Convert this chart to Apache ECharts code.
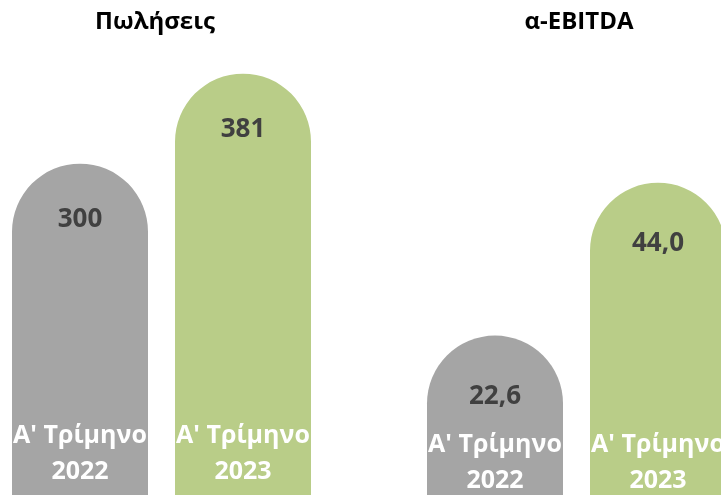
<!DOCTYPE html>
<html>
<head>
<meta charset="utf-8">
<script src="https://cdn.jsdelivr.net/npm/echarts@6/dist/echarts.min.js"></script>
<style>
  html, body { margin: 0; padding: 0; background: #ffffff; }
  #chart { width: 721px; height: 495px; }
</style>
</head>
<body>
<div id="chart"></div>
<script>
  // δεδομένα
  const categories = ["Α' Τρίμηνο\n2022", "Α' Τρίμηνο\n2023"];
  const salesValues = [300, 381];
  const ebitdaValues = [22.6, 44.0];
  const panelTitles = ["Πωλήσεις", "α-EBITDA"];

  const barColors = ["#A5A5A5", "#B9CD88"];
  const font = "'Open Sans', 'Noto Sans', sans-serif";

  const chart = echarts.init(document.getElementById("chart"));

  function barData(values) {
    return values.map(function (v, i) {
      return { value: v, itemStyle: { color: barColors[i] } };
    });
  }

  // ετικέτα τιμής μέσα στη μπάρα, κοντά στην κορυφή
  const valueLabel = function (decimals, offset) {
    return {
      show: true,
      position: ["50%", offset],
      align: "center",
      verticalAlign: "middle",
      color: "#404040",
      fontFamily: font,
      fontWeight: "bold",
      fontSize: 26,
      formatter: function (p) {
        return p.value.toFixed(decimals).replace(".", ",");
      }
    };
  };

  const catAxis = function (gridIndex, margin) {
    return {
      type: "category",
      gridIndex: gridIndex,
      data: categories,
      axisLine: { show: false },
      axisTick: { show: false },
      axisLabel: {
        inside: true,
        interval: 0,
        hideOverlap: false,
        margin: margin,
        color: "#ffffff",
        fontFamily: font,
        fontWeight: "bold",
        fontSize: 25,
        lineHeight: 36
      },
      z: 10
    };
  };

  const titleStyle = { color: "#000000", fontFamily: font, fontWeight: "bold", fontSize: 24 };

  const option = {
    animation: false,
    title: [
      { text: panelTitles[0], left: 150, top: 5, textAlign: "center", textStyle: titleStyle },
      { text: panelTitles[1], left: 574, top: 5, textAlign: "center", textStyle: titleStyle }
    ],
    grid: [
      { left: -1.5, right: 396.5, top: -3, bottom: -2, outerBoundsMode: "none" },
      { left: 413.5, right: -18.5, top: -3, bottom: -2, outerBoundsMode: "none" }
    ],
    xAxis: [catAxis(0, 7), catAxis(1, -2)],
    yAxis: [
      { type: "value", gridIndex: 0, min: 0, max: 450, show: false },
      { type: "value", gridIndex: 1, min: 0, max: 70, show: false }
    ],
    series: [
      {
        type: "bar", xAxisIndex: 0, yAxisIndex: 0, barWidth: 136,
        itemStyle: { borderRadius: [68, 68, 0, 0] },
        label: valueLabel(0, 56),
        data: barData(salesValues)
      },
      {
        type: "bar", xAxisIndex: 1, yAxisIndex: 1, barWidth: 136,
        itemStyle: { borderRadius: [68, 68, 0, 0] },
        label: valueLabel(1, 61),
        data: barData(ebitdaValues)
      }
    ]
  };

  chart.setOption(option);
</script>
</body>
</html>
